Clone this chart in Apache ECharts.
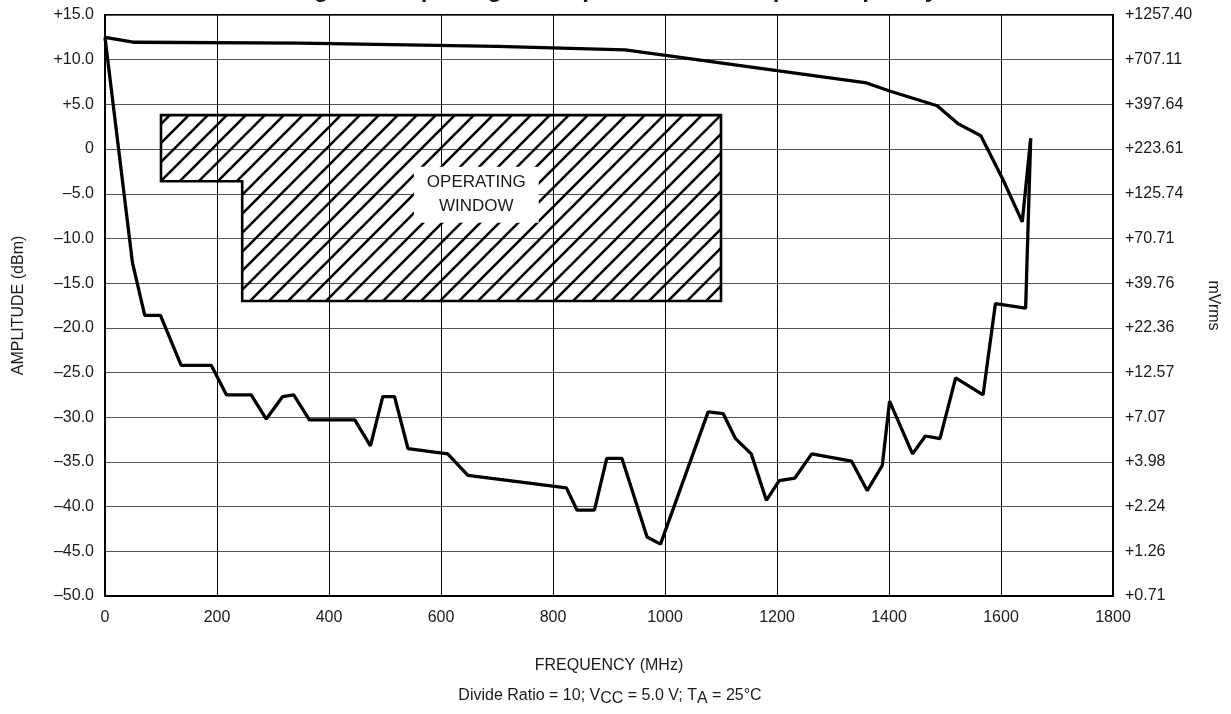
<!DOCTYPE html>
<html>
<head>
<meta charset="utf-8">
<script src="https://cdn.jsdelivr.net/npm/echarts@6/dist/echarts.min.js"></script>
<style>
  html, body { margin: 0; padding: 0; background: #fff; }
  #chart { width: 1231px; height: 714px; }
</style>
</head>
<body>
<div id="chart"></div>
<script>
// upper limit of the input range: [MHz, dBm]
const upperCurve = [
  [0, 12.5], [53, 11.95], [348, 11.85], [700, 11.5], [929, 11.1],
  [1360, 7.4], [1401, 6.5], [1486, 4.85], [1523, 2.85], [1564, 1.5],
  [1603, -3.35], [1638, -8.15], [1653, 1.2]
]

// lower limit (sensitivity): [MHz, dBm]
const lowerCurve = [
  [0, 12.5], [49, -12.7], [71, -18.6], [99, -18.6], [136, -24.2], [190, -24.2],
  [217, -27.5], [261, -27.5], [288, -30.2], [317, -27.7], [337, -27.5], [365, -30.3],
  [446, -30.3], [474, -33.2], [496, -27.7], [517, -27.7], [541, -33.5], [612, -34.1],
  [648, -36.5], [824, -37.9], [843, -40.4], [874, -40.4], [896, -34.6], [923, -34.6],
  [968, -43.4], [992, -44.2], [1077, -29.4], [1104, -29.6], [1126, -32.4], [1154, -34.1],
  [1181, -39.3], [1204, -37.1], [1232, -36.8], [1262, -34.1], [1333, -34.9], [1361, -38.2],
  [1388, -35.4], [1401, -28.2], [1442, -34.1], [1465, -32.1], [1491, -32.4], [1519, -25.6],
  [1568, -27.5], [1590, -17.3], [1644, -17.8], [1653, 1.2]
]

// operating window outline
const windowFreq = [100, 1100, 1100, 245, 245, 100]
const windowAmp = [3.8, 3.8, -17, -17, -3.6, -3.6]
const windowLabel = 'OPERATING\nWINDOW'
const windowLabelAt = [663, -5.1]

// right axis, mVrms for each dBm grid line (top to bottom)
const mvrmsLabels = [
  '+1257.40', '+707.11', '+397.64', '+223.61', '+125.74', '+70.71', '+39.76',
  '+22.36', '+12.57', '+7.07', '+3.98', '+2.24', '+1.26', '+0.71'
]

const FONT = 'Liberation Sans, Arial, Helvetica, sans-serif'
const TEXT = '#1a1a1a'

function makeHatch() {
  const s = 19
  const c = document.createElement('canvas')
  c.width = s
  c.height = s
  const ctx = c.getContext('2d')
  ctx.strokeStyle = '#000'
  ctx.lineWidth = 2.6
  ctx.beginPath()
  ctx.moveTo(-2, 2); ctx.lineTo(2, -2)
  ctx.moveTo(0, s); ctx.lineTo(s, 0)
  ctx.moveTo(s - 2, s + 2); ctx.lineTo(s + 2, s - 2)
  ctx.stroke()
  return c
}
const hatch = makeHatch()

function dbmLabel(v) {
  if (v === 0) return '0'
  return (v > 0 ? '+' : '\u2013') + Math.abs(v).toFixed(1)
}

const chart = echarts.init(document.getElementById('chart'))

chart.setOption({
  animation: false,
  backgroundColor: '#fff',
  textStyle: { fontFamily: FONT },
  grid: {
    left: 105, right: 118, top: 15, bottom: 118,
    show: true, borderColor: '#000', borderWidth: 1.8
  },
  graphic: [
    {
      type: 'text', left: 'center', top: -22,
      style: {
        text: 'Figure 3. Input Signal Amplitude versus Input Frequency',
        font: 'bold 24px ' + FONT, fill: TEXT
      }
    },
    {
      type: 'text', x: 610, y: 696,
      style: {
        text: 'Divide Ratio = 10; V{sub|CC} = 5.0 V; T{sub|A} = 25°C',
        align: 'center', verticalAlign: 'middle',
        font: '16px ' + FONT, fill: TEXT,
        rich: {
          sub: { fontSize: 16, fontFamily: FONT, fill: TEXT, padding: [6, 0, 0, 0] }
        }
      }
    }
  ],
  xAxis: {
    type: 'value', min: 0, max: 1800, interval: 200,
    name: 'FREQUENCY (MHz)', nameLocation: 'middle', nameGap: 62,
    nameTextStyle: { fontSize: 16, color: TEXT },
    axisLine: { onZero: false, lineStyle: { color: '#000', width: 1.8 } },
    axisTick: { show: false },
    axisLabel: { fontSize: 16, color: TEXT, margin: 14, formatter: v => String(v) },
    splitLine: { lineStyle: { color: '#000', width: 1 } }
  },
  yAxis: [
    {
      type: 'value', min: -50, max: 15, interval: 5,
      name: 'AMPLITUDE (dBm)', nameLocation: 'middle', nameGap: 78, nameRotate: 90,
      nameTextStyle: { fontSize: 16, color: TEXT },
      axisLine: { show: true, lineStyle: { color: '#000', width: 1.8 } },
      axisTick: { show: false },
      axisLabel: { fontSize: 16, color: TEXT, margin: 11, formatter: dbmLabel },
      splitLine: { lineStyle: { color: '#555', width: 1 } }
    },
    {
      type: 'value', min: -50, max: 15, interval: 5, position: 'right',
      name: 'mVrms', nameLocation: 'middle', nameGap: 92, nameRotate: -90,
      nameTextStyle: { fontSize: 16, color: TEXT },
      axisLine: { show: true, lineStyle: { color: '#000', width: 1.8 } },
      axisTick: { show: false },
      axisLabel: {
        fontSize: 16, color: TEXT, margin: 12,
        formatter: v => mvrmsLabels[Math.round((15 - v) / 5)]
      },
      splitLine: { show: false }
    }
  ],
  series: [
    {
      type: 'custom',
      z: 2,
      data: [[windowFreq[0], windowAmp[0]]],
      renderItem: (params, api) => {
        const pts = windowFreq.map((f, i) => api.coord([f, windowAmp[i]]))
        const at = api.coord(windowLabelAt)
        return {
          type: 'group',
          children: [
            {
              type: 'polygon',
              shape: { points: pts },
              style: { fill: { image: hatch, repeat: 'repeat' }, stroke: '#000', lineWidth: 2.6 }
            },
            {
              type: 'text', x: at[0], y: at[1],
              style: {
                text: windowLabel, align: 'center', verticalAlign: 'middle',
                font: '17px ' + FONT, fill: TEXT, lineHeight: 24,
                backgroundColor: '#fff', padding: [4, 13]
              }
            }
          ]
        }
      }
    },
    {
      type: 'line', data: upperCurve, showSymbol: false, z: 3,
      lineStyle: { color: '#000', width: 3.3 }
    },
    {
      type: 'line', data: lowerCurve, showSymbol: false, z: 3,
      lineStyle: { color: '#000', width: 3.3 }
    }
  ]
})
</script>
</body>
</html>
